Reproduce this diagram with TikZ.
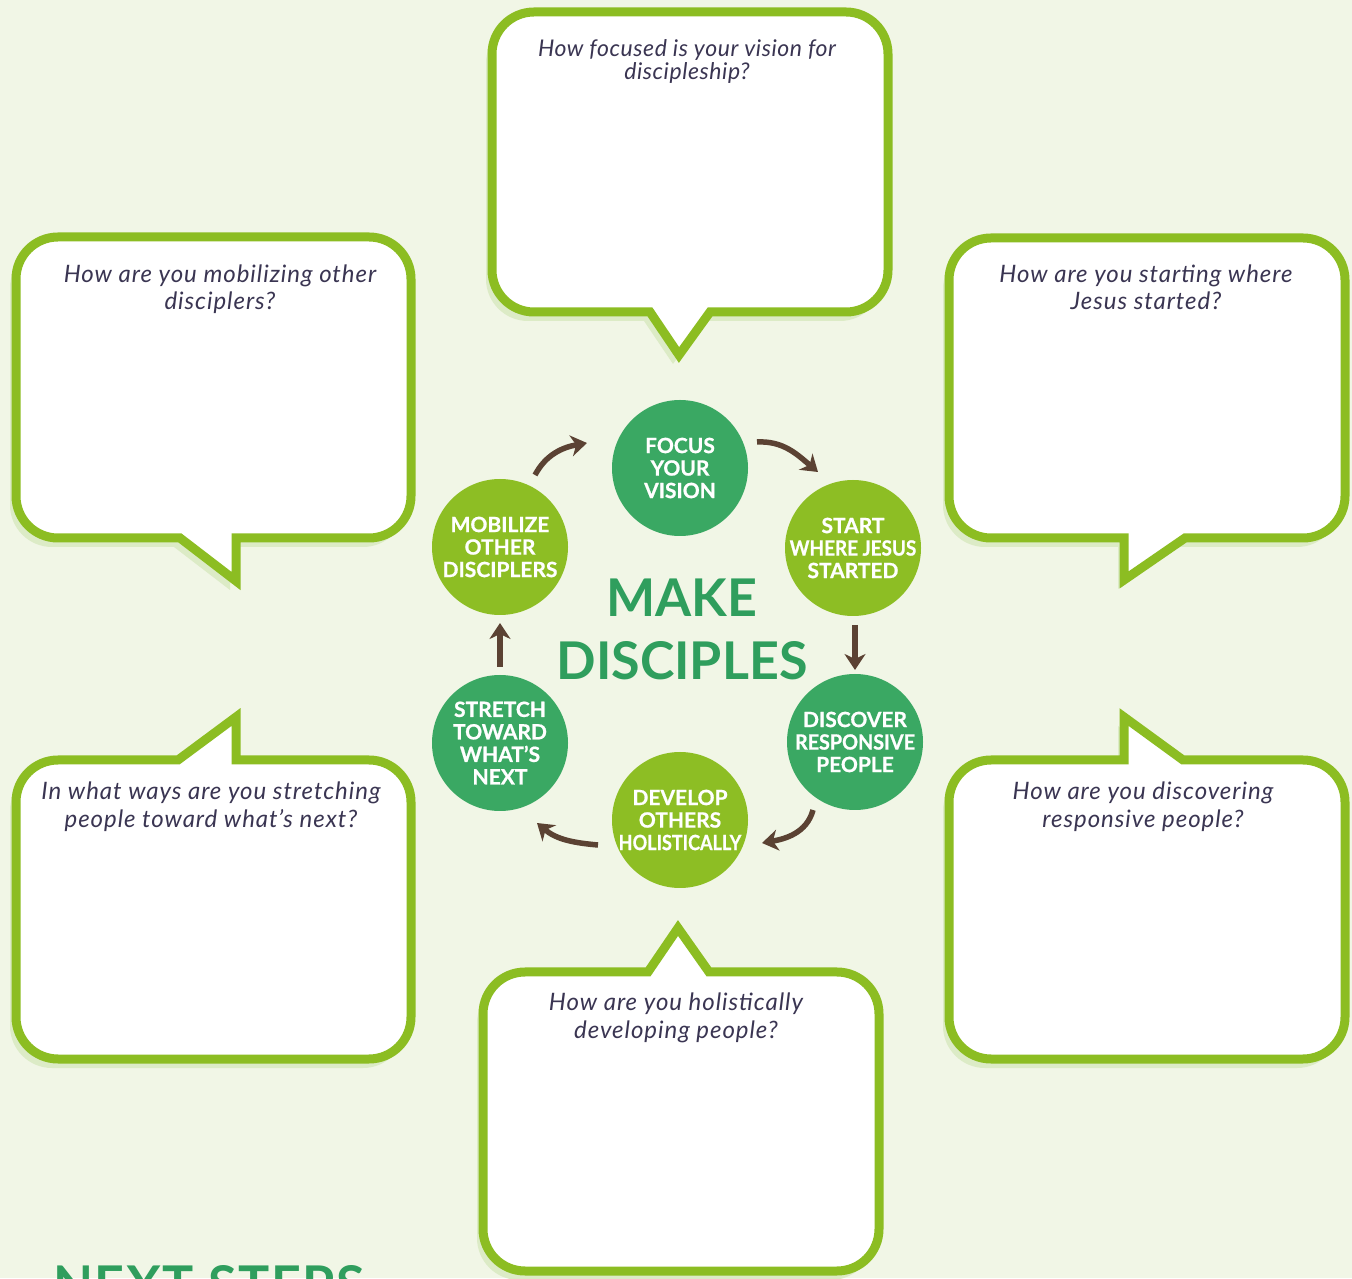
\documentclass[tikz,border=0pt]{standalone}
\usepackage{fontspec}
\usepackage{graphicx}
\usetikzlibrary{arrows.meta,calc}
\newfontfamily\latofont{Lato}
\newfontfamily\qfont{Lato}[LetterSpace=4]
\newfontfamily\qafont{Lato}[LetterSpace=2.5]
\newfontfamily\heavyfont{Lato}[FakeBold=0.8]
\newfontfamily\nextfont{Lato}[LetterSpace=3]
\definecolor{bg}{HTML}{F1F6E6}
\definecolor{shadowc}{HTML}{DCEBC6}
\definecolor{boxgreen}{HTML}{8CBD22}
\definecolor{dkgreen}{HTML}{3AA863}
\definecolor{ltgreen}{HTML}{8DBE24}
\definecolor{titlegreen}{HTML}{2F9E5D}
\definecolor{brownc}{HTML}{5B4233}
\definecolor{qtext}{HTML}{3A3552}
\newcommand\zl[1]{\makebox[0pt]{#1}}
\newcommand\bubble[6]{%
  \fill[shadowc,xshift=-6pt,yshift=-9pt] (#1+42,#4) #5 -- (#2-42,#4) arc[start angle=90,end angle=0,radius=42pt] -- (#2,#3+42) arc[start angle=0,end angle=-90,radius=42pt] #6 -- (#1+42,#3) arc[start angle=270,end angle=180,radius=42pt] -- (#1,#4-42) arc[start angle=180,end angle=90,radius=42pt] -- cycle;
  \draw[boxline] (#1+42,#4) #5 -- (#2-42,#4) arc[start angle=90,end angle=0,radius=42pt] -- (#2,#3+42) arc[start angle=0,end angle=-90,radius=42pt] #6 -- (#1+42,#3) arc[start angle=270,end angle=180,radius=42pt] -- (#1,#4-42) arc[start angle=180,end angle=90,radius=42pt] -- cycle;
}
\begin{document}
\begin{tikzpicture}[x=1pt,y=1pt,
  boxline/.style={draw=boxgreen,line width=9pt,fill=white,line join=miter},
  quest/.style={anchor=base,text=qtext,inner sep=0pt,font=\qfont\itshape\fontsize{24}{27}\selectfont},
  questa/.style={anchor=base,text=qtext,inner sep=0pt,font=\qafont\itshape\fontsize{23}{27}\selectfont},
  circ/.style={circle,minimum size=136pt,inner sep=0pt,text=white,align=center,font=\heavyfont\bfseries\fontsize{21}{22.5}\selectfont},
  ttl/.style={anchor=base,text=titlegreen,inner sep=0pt,font=\latofont\bfseries\fontsize{52}{60}\selectfont},
  arr/.style={draw=brownc,line width=5.5pt,-{Stealth[length=16pt,width=21pt,inset=5pt]}}]
\useasboundingbox (0,0) rectangle (1352,1278);
\fill[bg] (0,0) rectangle (1352,1278);
\clip (0,0) rectangle (1352,1278);
% speech bubbles
\bubble{492}{888}{966}{1266}{}{-- (710,966) -- (679,923) -- (650,966)}
\bubble{16}{411}{740}{1041}{}{-- (236,740) -- (236,697) -- (180,740)}
\bubble{949}{1345}{740}{1040}{}{-- (1185,740) -- (1124,698) -- (1124,740)}
\bubble{16}{411}{219}{518}{-- (178,518) -- (236,561) -- (236,518)}{}
\bubble{949}{1345}{219}{518}{-- (1124,518) -- (1124,561) -- (1183,518)}{}
\bubble{483}{879}{7}{306}{-- (648,306) -- (678,350) -- (709,306)}{}
% questions
\node[questa] (qa1) at (687,1221) {How focused is your vision for};
\node[questa] (qa2) at (687,1198) {discipleship?};
\node[quest] (qb1) at (220,995) {How are you mobilizing other};
\node[quest] (qb2) at (220,968) {disciplers?};
\node[quest] (qd1) at (1146,995) {How are you starting where};
\node[quest] (qd2) at (1146,968) {Jesus started?};
\node[quest] (qc1) at (211,478) {In what ways are you stretching};
\node[quest] (qc2) at (211,450) {people toward what’s next?};
\node[quest] (qe1) at (1143,478) {How are you discovering};
\node[quest] (qe2) at (1143,450) {responsive people?};
\node[quest] (qf1) at (676,268) {How are you holistically};
\node[quest] (qf2) at (676,240) {developing people?};
% cycle
\node[circ,fill=dkgreen] (foc) at (680,810) {\zl{FOCUS}\\\zl{YOUR}\\\zl{VISION}};
\node[circ,fill=ltgreen] (sta) at (853,730) {\zl{START}\\\zl{\scalebox{0.9}[1]{WHERE JESUS}}\\\zl{STARTED}};
\node[circ,fill=dkgreen] (dis) at (855,536) {\zl{DISCOVER}\\\zl{\scalebox{0.94}[1]{RESPONSIVE}}\\\zl{PEOPLE}};
\node[circ,fill=ltgreen] (dev) at (680,458) {\zl{DEVELOP}\\\zl{OTHERS}\\\zl{\scalebox{0.86}[1]{HOLISTICALLY}}};
\node[circ,fill=dkgreen] (str) at (500,535) {\zl{STRETCH}\\\zl{TOWARD}\\\zl{WHAT’S}\\\zl{NEXT}};
\node[circ,fill=ltgreen] (mob) at (500,731) {\zl{MOBILIZE}\\\zl{OTHER}\\\zl{DISCIPLERS}};
\node[ttl] (make) at (682,661) {MAKE};
\node[ttl] (disc) at (682,598) {DISCIPLES};
% arrow end points, placed relative to the circles
\coordinate (a1s) at ($(mob)+(35,72)$);
\coordinate (a1e) at ($(foc)+(-93,25)$);
\coordinate (a2s) at ($(foc)+(77,26)$);
\coordinate (a2e) at ($(sta)+(-35,76)$);
\coordinate (a3s) at ($(sta)+(2,-77)$);
\coordinate (a3e) at ($(dis)+(0,72)$);
\coordinate (a4s) at ($(dis)+(-42,-68)$);
\coordinate (a4e) at ($(dev)+(82,-23)$);
\coordinate (a5s) at ($(dev)+(-82,-25)$);
\coordinate (a5e) at ($(str)+(37,-80)$);
\coordinate (a6s) at ($(str)+(0,76)$);
\coordinate (a6e) at ($(mob)+(0,-76)$);
\draw[arr] (a1s) to[out=62,in=190] (a1e);
\draw[arr] (a2s) to[out=3,in=140] (a2e);
\draw[arr] (a3s) -- (a3e);
\draw[arr] (a4s) to[out=-105,in=10] (a4e);
\draw[arr] (a5s) to[out=175,in=-40] (a5e);
\draw[arr] (a6s) -- (a6e);
% next steps
\node[anchor=base west,inner sep=0pt,text=titlegreen,font=\nextfont\bfseries\fontsize{52}{60}\selectfont] (next) at (53,-25) {NEXT STEPS};
\end{tikzpicture}
\end{document}
